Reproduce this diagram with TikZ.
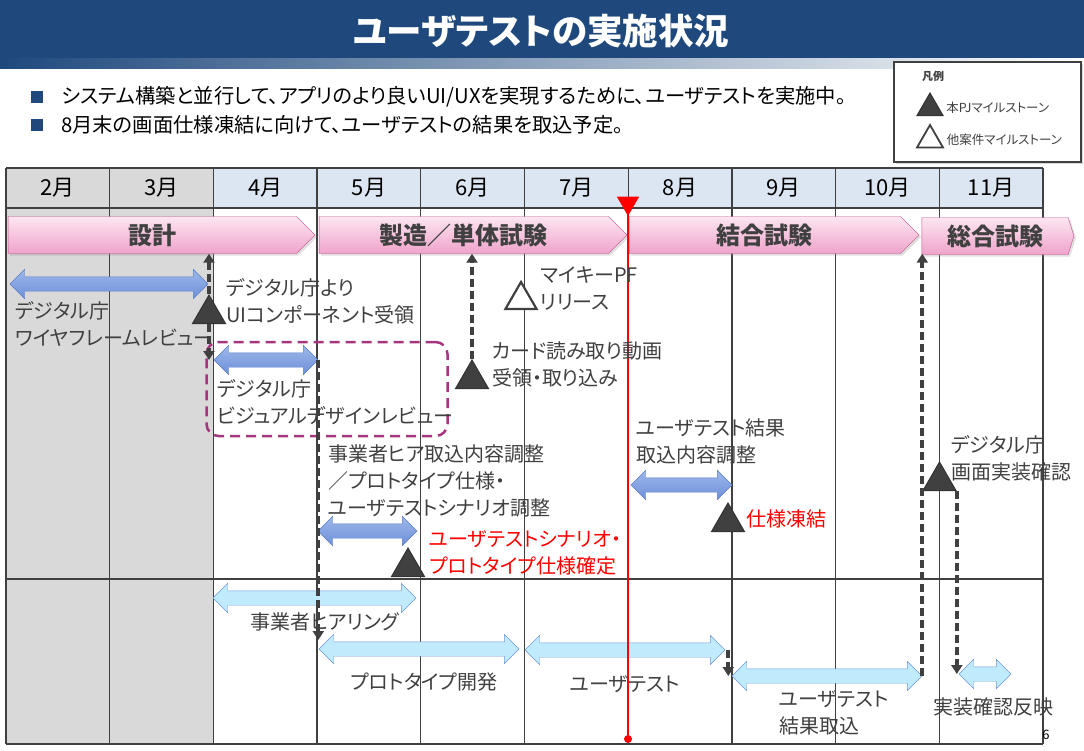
\documentclass[tikz,border=0pt]{standalone}
\usepackage{fontspec}
\setmainfont{Noto Sans CJK JP}[RawFeature={+palt}]
\usetikzlibrary{arrows.meta, shadows, shapes.geometric, shapes.arrows, shapes.symbols, positioning}
\definecolor{cTitle}{HTML}{1F497D}
\definecolor{cStrip}{HTML}{8DB4E2}
\definecolor{cGrayCol}{HTML}{D9D9D9}
\definecolor{cHead}{HTML}{DCE6F2}
\definecolor{cGrid}{HTML}{404040}
\definecolor{cPinkTop}{HTML}{FDE6F1}
\definecolor{cPinkBot}{HTML}{EFA3CB}
\definecolor{cPinkLine}{HTML}{C0508C}
\definecolor{cBlueTop}{HTML}{9DB8EA}
\definecolor{cBlueBot}{HTML}{6E8FD9}
\definecolor{cBlueLine}{HTML}{5A7DC9}
\definecolor{cSky}{HTML}{C0EBFC}
\definecolor{cSkyLine}{HTML}{6F95D5}
\definecolor{cMile}{HTML}{404040}
\definecolor{cPlum}{HTML}{A6357F}
\definecolor{cText}{HTML}{404040}

\begin{document}
\begin{tikzpicture}[x=1pt, y=-1pt,
  lbl/.style={font=\fontsize{20}{27}\selectfont, text=cText, align=left, inner sep=0pt, anchor=west},
  redlbl/.style={lbl, text=red},
  barlbl/.style={font=\fontsize{20}{27}\selectfont, text=cText, align=center, inner sep=0pt},
  month/.style={font=\fontsize{22}{26}\selectfont, text=black},
  phase/.style={signal, signal to=east, signal from=nowhere, draw=cPinkLine,
    top color=cPinkTop, bottom color=cPinkBot, minimum height=37pt, minimum width=#1,
    inner sep=0pt, font=\fontsize{24}{28}\selectfont\bfseries, text=cText,
    drop shadow={opacity=0.25, shadow xshift=2pt, shadow yshift=-2pt}},
  bluearr/.style={double arrow, double arrow head extend=7.5pt, inner xsep=0pt, inner ysep=7pt,
    minimum height=#1, draw=cBlueLine, top color=cBlueTop, bottom color=cBlueBot},
  skyarr/.style={double arrow, double arrow head extend=7.5pt, inner xsep=0pt, inner ysep=7pt,
    minimum height=#1, draw=cSkyLine, fill=cSky},
  pjmile/.style={regular polygon, regular polygon sides=3, minimum size=38pt, inner sep=0pt,
    fill=cMile, draw=black!80, line width=1pt},
  othermile/.style={pjmile, fill=white, draw=cMile, line width=2.2pt},
  depend/.style={-{Triangle[length=9pt, width=11pt]}, draw=cMile, line width=4pt,
    dash pattern=on 8pt off 4pt},
  grid/.style={draw=cGrid, line width=1.3pt}
]
\useasboundingbox (0,0) rectangle (1084,750);

% title bar
\fill[cTitle] (0,0) rectangle (1084,58);
\shade[left color=cTitle, middle color=cStrip, right color=white] (0,58) rectangle (1084,68);
\node[font=\fontsize{35.5}{40}\selectfont\bfseries, text=white] (title) at (541,31) {ユーザテストの実施状況};

% bullets
\node[fill=cTitle, minimum size=12pt, inner sep=0pt] (b1) at (37,97) {};
\node[fill=cTitle, minimum size=12pt, inner sep=0pt] (b2) at (37,125) {};
\node[lbl, font=\fontsize{20.3}{23}\selectfont, text=black, right=18pt of b1] (t1) {システム構築と並行して、アプリのより良いUI/UXを実現するために、ユーザテストを実施中。};
\node[lbl, font=\fontsize{20.3}{23}\selectfont, text=black, right=18pt of b2] (t2) {8月末の画面仕様凍結に向けて、ユーザテストの結果を取込予定。};

% legend
\node[draw=cGrid, line width=2pt, fill=white, minimum width=187pt, minimum height=100pt,
  drop shadow={opacity=0.3, shadow xshift=1.5pt, shadow yshift=-1.5pt}] (legend) at (987.5,112) {};
\node[font=\fontsize{11}{13}\selectfont\bfseries, text=cText] (legtitle) at (933,76) {凡例};
\node[pjmile, minimum size=30pt] (legpj) at (930,108) {};
\node[othermile, minimum size=30pt, line width=1.8pt] (legother) at (930,140) {};
\node[lbl, font=\fontsize{12.5}{14}\selectfont, right=7pt of legpj] {本PJマイルストーン};
\node[lbl, font=\fontsize{12.5}{14}\selectfont, right=7pt of legother] {他案件マイルストーン};

% schedule grid
\fill[cGrayCol] (6,168) rectangle (213.4,744);
\fill[cHead] (213.4,168) rectangle (1043,208);
\foreach \k in {0,...,10}
  \draw[grid] ({6+103.7*\k},168) -- ({6+103.7*\k},744);
\foreach \yy in {168,208,579,744}
  \draw[grid] (6,\yy) -- (1043,\yy);
\foreach \m [count=\i from 0] in {2,...,11}
  \node[month] (m\m) at ({57.85+103.7*\i},188) {{\m}月};

% phases
\node[phase=307pt] (sekkei) at (152.3,235) {設計};
\node[phase=308pt] (seizo) at (463.8,235) {製造／単体試験};
\node[phase=290pt] (ketsugo) at (764.8,235) {結合試験};
\node[phase=152pt, signal pointer angle=145] (sogo) at (995,236) {総合試験};

% design review box
\node[draw=cPlum, line width=2.5pt, dash pattern=on 10pt off 6pt, rounded corners=12pt,
  minimum width=241pt, minimum height=94pt] (vdbox) at (327,389) {};

% task arrows (upper)
\node[bluearr=198pt] (wire) at (109,284) {};
\node[bluearr=104pt] (visual) at (266,360) {};
\node[bluearr=99pt] (hearadj) at (367.5,531) {};
\node[bluearr=101pt] (resadj) at (681.5,485) {};

% task arrows (lower)
\node[skyarr=203pt] (hearing) at (314.5,598) {};
\node[skyarr=200pt] (proto) at (419,649) {};
\node[skyarr=200pt] (utest) at (625,650) {};
\node[skyarr=190pt] (result) at (827,676) {};
\node[skyarr=52pt] (jisso) at (985,674) {};

% milestones
\node[pjmile] (uitri) at (209,314) {};
\node[pjmile] (cardtri) at (472,379) {};
\node[pjmile] (spectri) at (408,567) {};
\node[pjmile] (freezetri) at (728,522) {};
\node[pjmile] (gamentri) at (939.5,481) {};
\node[othermile, minimum size=36pt] (mykeytri) at (521,300) {};

% dependencies
\draw[depend] (uitri.north) -- (uitri.north |- sekkei.south);
\draw[depend] (uitri.south) -- (uitri.south |- visual.west);
\draw[depend] (cardtri.north) -- (cardtri.north |- seizo.south);
\draw[depend, shorten >=9pt] (visual.east) -- (visual.east |- proto.west);
\draw[depend] ([xshift=3pt]utest.east) -- ([xshift=3pt]utest.east |- result.west);
\draw[depend] (result.east) -- (result.east |- ketsugo.south);
\draw[depend] (gamentri.corner 3) -- (gamentri.corner 3 |- jisso.west);

% today
\node[fill=red, regular polygon, regular polygon sides=3, shape border rotate=180,
  minimum size=26pt, inner sep=0pt] (now) at (628,203) {};
\node[circle, fill=red, minimum size=8pt, inner sep=0pt] (nowdot) at (628,739) {};
\draw[red, line width=2.5pt] (now.center) -- (nowdot);

% labels
\node[lbl] (wirelbl) at (15,323.5) {デジタル庁\\ワイヤフレームレビュー};
\node[lbl] (uilbl) at (226,301.5) {デジタル庁より\\UIコンポーネント受領};
\node[lbl] (mykeylbl) at (540,288.5) {マイキーPF\\リリース};
\node[lbl] (cardlbl) at (492,364) {カード読み取り動画\\受領・取り込み};
\node[lbl] (visuallbl) at (217,402.5) {デジタル庁\\ビジュアルデザインレビュー};
\node[lbl] (hearadjlbl) at (328,481) {事業者ヒア取込内容調整\\／プロトタイプ仕様・\\ユーザテストシナリオ調整};
\node[redlbl] (speclbl) at (429,552.5) {ユーザテストシナリオ・\\プロトタイプ仕様確定};
\node[lbl] (resadjlbl) at (636,441.5) {ユーザテスト結果\\取込内容調整};
\node[redlbl] (freezelbl) at (746,519) {仕様凍結};
\node[lbl] (gamenlbl) at (951,458.5) {デジタル庁\\画面実装確認};
\node[barlbl] (hearinglbl) at (325,622) {事業者ヒアリング};
\node[barlbl] (protolbl) at (424,682) {プロトタイプ開発};
\node[barlbl] (utestlbl) at (625,684) {ユーザテスト};
\node[lbl] (resultlbl) at (779,712.5) {ユーザテスト\\結果取込};
\node[barlbl] (jissolbl) at (993,707) {実装確認反映};
\node[font=\fontsize{13}{15}\selectfont, text=black, inner sep=0pt] (page) at (1046,735) {6};
\end{tikzpicture}
\end{document}
